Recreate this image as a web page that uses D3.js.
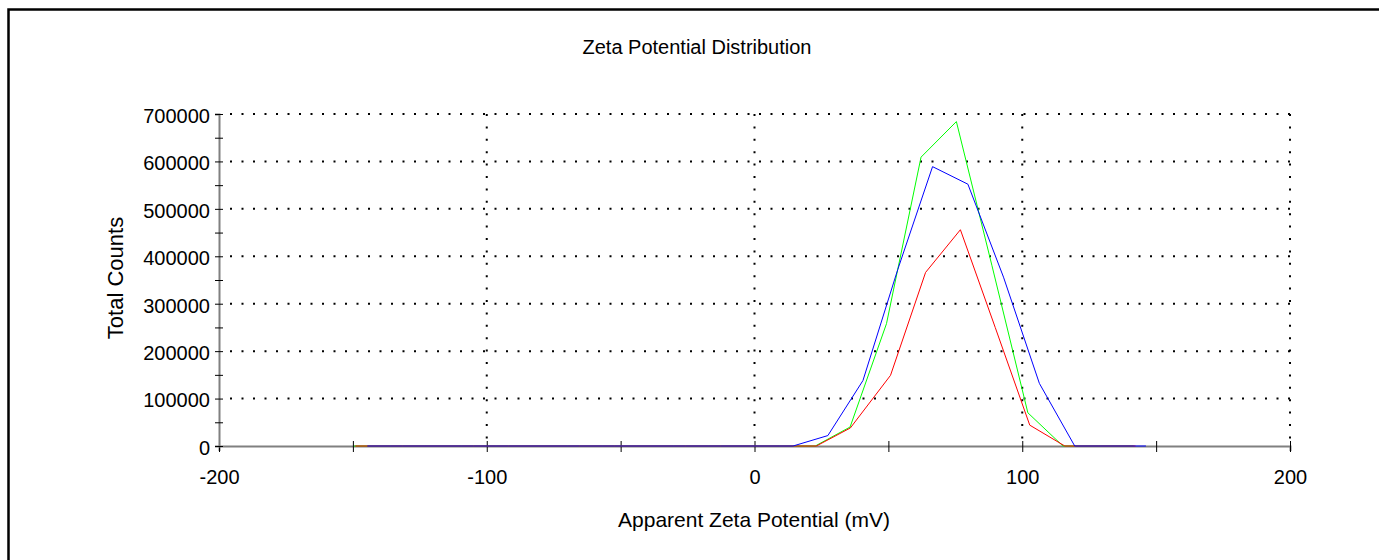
<!doctype html>
<html lang="en">
<head>
<meta charset="utf-8">
<title>Zeta Potential Distribution</title>
<script src="https://cdnjs.cloudflare.com/ajax/libs/d3/7.8.5/d3.min.js"></script>
<style>
    body {
        margin: 0;
        background: #fff;
        overflow: hidden;
    }
    text {
        font-family: "Liberation Sans", Arial, sans-serif;
        font-size: 20px;
        fill: #000;
    }
    .axis .domain {
        stroke: #808080;
        stroke-width: 2px;
    }
    .axis .tick line {
        stroke: #000;
        stroke-width: 1px;
    }
    .grid line {
        stroke: #000;
        stroke-width: 2px;
    }
    .series {
        fill: none;
        stroke-width: 1px;
    }
</style>
</head>
<body>
<script>

var width = 1379,
    height = 560;

// data (mV, total counts)
var greenX = [-149.6, -136.4, -123.2, -110.0, -96.8, -83.6, -70.4, -57.2, -44.0, -30.8, -17.6, -4.4, 8.8,
              22.7, 35.7, 49.3, 62.2, 75.4, 88.7, 102.1, 115.2, 128.4, 141.6];
var greenY = [0, 0, 0, 0, 0, 0, 0, 0, 0, 0, 0, 0, 0,
              0, 40000, 258000, 609000, 684000, 380000, 70000, 0, 0, 0];

var redX = [-149.1, -135.9, -122.7, -109.5, -96.3, -83.1, -69.9, -56.7, -43.5, -30.3, -17.1, -3.9, 9.3,
            23.1, 35.8, 50.8, 63.9, 76.9, 89.9, 102.8, 115.9, 129.1, 142.3];
var redY = [0, 0, 0, 0, 0, 0, 0, 0, 0, 0, 0, 0, 0,
            0, 38000, 149000, 366000, 456000, 250000, 44000, 0, 0, 0];

var blueX = [-144.6, -131.4, -118.2, -105.0, -91.8, -78.6, -65.4, -52.2, -39.0, -25.8, -12.6, 0.6,
             14.4, 27.4, 40.5, 53.5, 66.5, 79.7, 93.0, 106.4, 119.6, 132.8, 146.2];
var blueY = [0, 0, 0, 0, 0, 0, 0, 0, 0, 0, 0, 0,
             0, 22000, 138000, 372000, 589000, 552000, 356000, 132000, 0, 0, 0];

var xTicks = [-200, -150, -100, -50, 0, 50, 100, 150, 200];
var xLabels = [-200, -100, 0, 100, 200];
var yTicks = [0, 50000, 100000, 150000, 200000, 250000, 300000, 350000, 400000, 450000, 500000, 550000, 600000, 650000, 700000];
var yLabels = [0, 100000, 200000, 300000, 400000, 500000, 600000, 700000];
var xGrid = [-100, 0, 100, 200];
var yGrid = [100000, 200000, 300000, 400000, 500000, 600000, 700000];

var x = d3.scaleLinear().domain([-200, 200]).range([219, 1290]);
var y = d3.scaleLinear().domain([0, 700000]).range([446, 114]);

var svg = d3.select("body")
    .append("svg")
    .attr("width", width)
    .attr("height", height);

// outer frame (only top and left edges show in the crop)
svg.append("path")
    .attr("d", "M8.5," + height + "V9.5H" + width)
    .attr("fill", "none")
    .attr("stroke", "#000")
    .attr("stroke-width", 2.5);

svg.append("text")
    .attr("x", 697)
    .attr("y", 54)
    .attr("text-anchor", "middle")
    .text("Zeta Potential Distribution");

// dotted grid
var grid = svg.append("g").attr("class", "grid");
grid.selectAll(".hg")
    .data(yGrid)
    .enter().append("line")
    .attr("class", "hg")
    .attr("x1", x(-200) + 11)
    .attr("x2", x(200))
    .attr("y1", d => y(d))
    .attr("y2", d => y(d))
    .attr("stroke-dasharray", "2 9.5");
grid.selectAll(".vg")
    .data(xGrid)
    .enter().append("line")
    .attr("class", "vg")
    .attr("x1", d => x(d))
    .attr("x2", d => x(d))
    .attr("y1", y(700000))
    .attr("y2", y(0))
    .attr("stroke-dasharray", "2 10.4");

// axes
var xAxis = svg.append("g")
    .attr("class", "axis")
    .attr("transform", "translate(0," + y(0) + ")")
    .call(d3.axisBottom(x)
        .tickValues(xTicks)
        .tickSizeOuter(0)
        .tickSize(5)
        .tickFormat(d => xLabels.indexOf(d) >= 0 ? d : ""));
xAxis.selectAll(".tick line").attr("y1", -5).attr("y2", 6);
xAxis.selectAll(".tick text")
    .attr("y", 38)
    .attr("dy", null)
    .style("font-size", "20px")
    .style("font-family", "'Liberation Sans', Arial, sans-serif");

var yAxis = svg.append("g")
    .attr("class", "axis")
    .attr("transform", "translate(" + x(-200) + ",0)")
    .call(d3.axisLeft(y)
        .tickValues(yTicks)
        .tickSizeOuter(0)
        .tickSize(4)
        .tickFormat(d => yLabels.indexOf(d) >= 0 ? d : ""));
yAxis.selectAll(".tick line").attr("x1", -4).attr("x2", 4);
yAxis.selectAll(".tick text")
    .attr("x", -9)
    .attr("dy", "0.42em")
    .style("font-size", "20px")
    .style("font-family", "'Liberation Sans', Arial, sans-serif");

svg.append("text")
    .attr("x", 754)
    .attr("y", 527)
    .attr("text-anchor", "middle")
    .style("font-size", "21px")
    .text("Apparent Zeta Potential (mV)");

svg.append("text")
    .attr("transform", "translate(123,278) rotate(-90)")
    .attr("text-anchor", "middle")
    .style("font-size", "22px")
    .text("Total Counts");

// series
var line = d3.line()
    .x(d => x(d[0]))
    .y(d => y(d[1]));

var series = [
    {color: "#00ff00", xs: greenX, ys: greenY},
    {color: "#ff0000", xs: redX, ys: redY},
    {color: "#0000ff", xs: blueX, ys: blueY}
];

series.forEach(function(s) {
    svg.append("path")
        .attr("class", "series")
        .datum(d3.zip(s.xs, s.ys))
        .attr("stroke", s.color)
        .attr("d", line);
});

</script>
</body>
</html>
